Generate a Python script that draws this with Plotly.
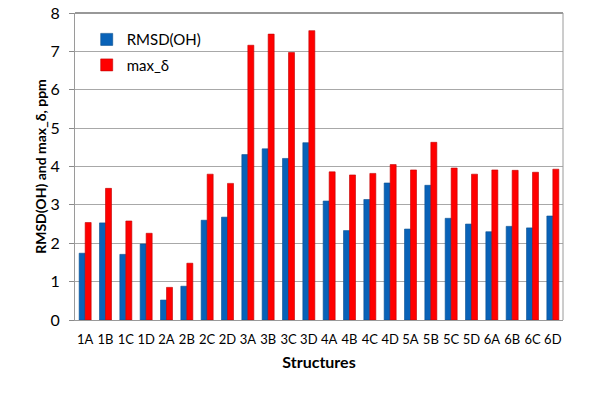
import plotly.graph_objects as go

categories = ["1A","1B","1C","1D","2A","2B","2C","2D","3A","3B","3C","3D",
              "4A","4B","4C","4D","5A","5B","5C","5D","6A","6B","6C","6D"]
rmsd_oh = [1.74, 2.53, 1.71, 1.98, 0.52, 0.88, 2.60, 2.68, 4.31, 4.46, 4.21, 4.62,
           3.10, 2.33, 3.14, 3.57, 2.37, 3.51, 2.65, 2.50, 2.30, 2.44, 2.40, 2.71]
max_delta = [2.54, 3.43, 2.58, 2.26, 0.85, 1.48, 3.80, 3.56, 7.16, 7.45, 6.97, 7.54,
             3.86, 3.78, 3.82, 4.05, 3.91, 4.63, 3.96, 3.80, 3.91, 3.90, 3.85, 3.93]
y_ticks = [0, 1, 2, 3, 4, 5, 6, 7, 8]

FONT = "Lato, 'Open Sans', sans-serif"

fig = go.Figure()
fig.add_trace(go.Bar(x=categories, y=rmsd_oh, name="RMSD(OH)", legendgroup="a",
                     marker=dict(color="#0862b8", line=dict(color="#0a4f8f", width=0.6))))
fig.add_trace(go.Bar(x=categories, y=max_delta, name="max_δ", legendgroup="b",
                     marker=dict(color="#ff0000", line=dict(color="#c00000", width=0.6))))

fig.update_layout(
    width=600, height=396,
    margin=dict(l=75, r=37, t=13, b=76, autoexpand=False),
    paper_bgcolor="white", plot_bgcolor="white",
    barmode="group", bargap=0.41, bargroupgap=0,
    font=dict(family=FONT, color="#000000"),
    showlegend=True,
    legend=dict(x=0.024, y=0.967, xanchor="left", yanchor="top",
                bgcolor="rgba(255,255,255,0)", font=dict(size=15, family=FONT),
                traceorder="grouped", tracegroupgap=3, itemwidth=30),
    xaxis=dict(
        automargin=False,
        tickfont=dict(size=13, family=FONT), ticks="", showgrid=False,
        ticklabelstandoff=7,
        showline=True, linecolor="#9a9a9a", linewidth=1, mirror=False,
        title=dict(text="<b>Structures</b>", font=dict(size=16, family=FONT), standoff=11),
    ),
    yaxis=dict(
        automargin=False,
        range=[0, 8], tickvals=y_ticks, ticktext=[str(v) for v in y_ticks],
        tickfont=dict(size=16, family=FONT), ticks="outside", ticklen=5, tickcolor="#8a8a8a",
        ticklabelstandoff=6,
        showgrid=True, gridcolor="#a8a8a8", gridwidth=1,
        showline=True, linecolor="#9a9a9a", linewidth=1, mirror=False,
        zeroline=False,
        title=dict(text="<b>RMSD(OH) and max_δ, ppm</b>", font=dict(size=14, family=FONT), standoff=0),
    ),
)

# plot-area frame: dark top edge, gray right edge
fig.add_shape(type="line", xref="paper", yref="paper", x0=0, x1=1, y0=1, y1=1,
              line=dict(color="#333333", width=1.2))
fig.add_shape(type="line", xref="paper", yref="paper", x0=1, x1=1, y0=0, y1=1,
              line=dict(color="#9a9a9a", width=1))

fig.write_html("out.html", config={"displayModeBar": False},
               post_script="document.body.style.margin='0px';")
